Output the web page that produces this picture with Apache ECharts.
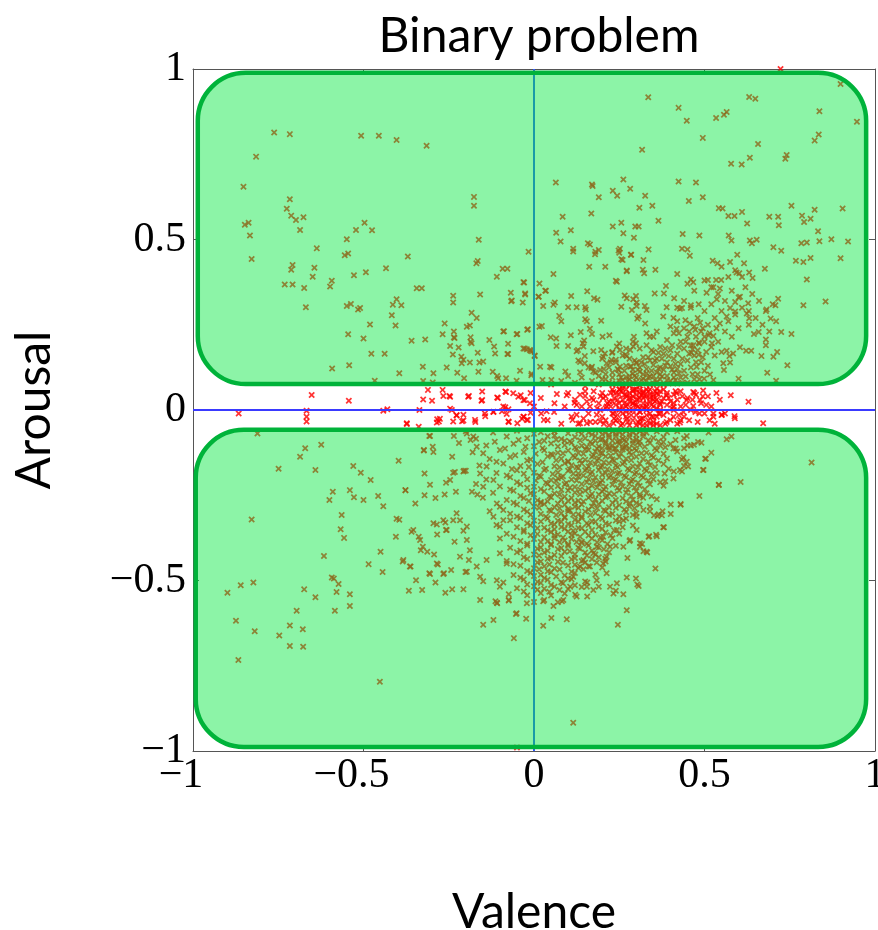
<!DOCTYPE html>
<html><head><meta charset="utf-8">
<script src="https://cdn.jsdelivr.net/npm/echarts@6/dist/echarts.min.js"></script>
<style>html,body{margin:0;padding:0;background:#fff}#c{width:878px;height:930px}</style>
</head><body><div id="c"></div>
<script>
const xTicks = [-1, -0.5, 0, 0.5, 1];
const yTicks = [-1, -0.5, 0, 0.5, 1];
const xTickLabels = ['−1', '−0.5', '0', '0.5', '1'];
const yTickLabels = ['−1', '−0.5', '0', '0.5', '1'];

// points in the upper (high arousal) region
const upperPoints = [
[-0.762,0.814],[-0.716,0.809],[-0.507,0.804],[-0.455,0.804],[-0.403,0.792],[-0.315,0.775],[-0.815,0.743],[-0.852,0.655],[-0.716,0.618],[-0.725,0.590],[-0.712,0.570],[-0.698,0.557],[-0.676,0.565],[-0.686,0.528],[-0.848,0.543],[-0.837,0.549],[-0.833,0.512],[-0.828,0.443],[-0.637,0.474],[-0.549,0.501],[-0.522,0.528],[-0.497,0.549],[-0.475,0.527],[-0.555,0.454],[-0.545,0.459],[-0.708,0.425],[-0.712,0.411],[-0.644,0.417],[-0.649,0.391],[-0.731,0.368],[-0.708,0.368],[-0.674,0.358],[-0.593,0.379],[-0.598,0.362],[-0.528,0.395],[-0.493,0.404],[-0.434,0.416],[-0.370,0.450],[-0.176,0.625],[-0.176,0.599],[-0.162,0.499],[-0.165,0.437],[-0.169,0.430],[-0.016,0.464],[-0.109,0.391],[-0.092,0.414],[-0.078,0.414],[-0.344,0.357],[-0.329,0.357],[-0.669,0.301],[-0.549,0.305],[-0.537,0.311],[-0.516,0.295],[-0.510,0.299],[-0.403,0.325],[-0.414,0.309],[-0.389,0.307],[-0.417,0.278],[-0.406,0.248],[-0.481,0.251],[-0.545,0.222],[-0.500,0.210],[-0.477,0.165],[-0.438,0.165],[-0.592,0.122],[-0.542,0.131],[-0.395,0.108],[-0.359,0.203],[-0.319,0.207],[-0.237,0.335],[-0.237,0.315],[-0.158,0.339],[-0.183,0.285],[-0.168,0.270],[-0.262,0.254],[-0.268,0.222],[-0.235,0.230],[-0.235,0.213],[-0.197,0.244],[-0.188,0.248],[-0.186,0.213],[-0.183,0.196],[-0.246,0.188],[-0.221,0.183],[-0.238,0.163],[-0.213,0.156],[-0.207,0.147],[-0.212,0.137],[-0.188,0.139],[-0.165,0.168],[-0.160,0.139],[-0.149,0.142],[-0.163,0.112],[-0.256,0.125],[-0.295,0.108],[-0.225,0.109],[-0.205,0.093],[-0.326,0.127],[-0.325,0.085],[-0.297,0.081],[-0.467,0.086],[-0.131,0.205],[-0.117,0.186],[-0.114,0.166],[-0.076,0.194],[-0.076,0.164],[-0.090,0.230],[-0.051,0.222],[-0.020,0.235],[-0.031,0.180],[-0.012,0.176],[-0.041,0.115],[-0.007,0.106],[-0.121,0.112],[-0.105,0.093],[-0.082,0.093],[-0.051,0.086],[-0.068,0.344],[-0.067,0.319],[-0.029,0.374],[-0.026,0.339],[-0.033,0.315],[0.016,0.371],[0.013,0.332],[0.035,0.350],[0.027,0.305],[0.016,0.244],
[0.335,0.917],[0.424,0.886],[0.448,0.848],[0.495,0.798],[0.534,0.856],[0.557,0.866],[0.565,0.874],[0.631,0.918],[0.649,0.913],[0.657,0.780],[0.633,0.740],[0.578,0.722],[0.609,0.720],[0.317,0.763],[0.741,0.748],[0.737,0.737],[0.823,0.790],[0.835,0.808],[0.837,0.876],[0.899,0.956],[0.947,0.845],[0.723,1.0],[0.064,0.667],[0.170,0.661],[0.172,0.657],[0.262,0.676],[0.282,0.649],[0.231,0.643],[0.244,0.628],[0.190,0.624],[0.326,0.628],[0.424,0.670],[0.475,0.667],[0.454,0.613],[0.495,0.624],[0.309,0.593],[0.347,0.599],[0.168,0.576],[0.084,0.567],[0.365,0.555],[0.542,0.592],[0.553,0.591],[0.570,0.569],[0.588,0.569],[0.610,0.581],[0.625,0.547],[0.690,0.567],[0.716,0.567],[0.718,0.542],[0.755,0.599],[0.786,0.570],[0.792,0.551],[0.811,0.561],[0.823,0.587],[0.905,0.591],[0.833,0.524],[0.837,0.495],[0.872,0.501],[0.921,0.494],[0.784,0.489],[0.800,0.491],[0.899,0.445],[0.768,0.438],[0.790,0.434],[0.811,0.446],[0.800,0.383],[0.790,0.307],[0.855,0.318],[0.702,0.477],[0.725,0.467],[0.677,0.414],[0.571,0.512],[0.579,0.497],[0.633,0.497],[0.653,0.499],[0.639,0.489],[0.596,0.455],[0.575,0.434],[0.616,0.430],[0.594,0.403],[0.602,0.401],[0.631,0.403],[0.641,0.387],[0.524,0.438],[0.538,0.430],[0.436,0.516],[0.485,0.512],[0.434,0.473],[0.450,0.471],[0.457,0.452],[0.420,0.399],[0.460,0.383],[0.467,0.375],[0.510,0.381],[0.534,0.381],[0.549,0.381],[0.526,0.360],[0.545,0.356],[0.506,0.344],[0.536,0.325],[0.604,0.332],[0.590,0.317],[0.575,0.299],[0.590,0.289],[0.624,0.283],[0.631,0.269],[0.628,0.313],[0.682,0.295],[0.708,0.307],[0.716,0.326],[0.694,0.268],[0.725,0.229],[0.755,0.223],[0.659,0.229],[0.645,0.223],[0.680,0.207],[0.680,0.190],[0.604,0.184],[0.622,0.174],[0.637,0.174],[0.667,0.158],[0.713,0.170],[0.702,0.156],[0.743,0.131],[0.684,0.109],[0.600,0.092],[0.710,0.086],[0.499,0.092],[0.500,0.215],[0.512,0.219],[0.526,0.217],[0.522,0.196],[0.565,0.174],[0.573,0.158],[0.575,0.139],[0.555,0.137],[0.557,0.117],[0.584,0.166],[0.545,0.254],[0.565,0.274],[0.487,0.256],[0.473,0.235],[0.457,0.254],[0.444,0.263],[0.483,0.310],[0.460,0.307],[0.434,0.299],[0.409,0.270],[0.418,0.238],[0.483,0.197],[0.467,0.190],[0.461,0.168],[0.483,0.162],[0.477,0.127],[0.516,0.104],[0.526,0.088],
[-0.031,0.375],[-0.026,0.342],[-0.065,0.321],[0.033,0.350],[0.014,0.332],[0.057,0.399],[0.078,0.494],[0.065,0.520],[0.108,0.527],[0.115,0.473],[0.115,0.465],[0.158,0.489],[0.164,0.485],[0.180,0.464],[0.190,0.469],[0.162,0.420],[0.209,0.420],[0.248,0.468],[0.252,0.473],[0.260,0.440],[0.285,0.455],[0.293,0.505],[0.297,0.538],[0.307,0.538],[0.256,0.549],[0.231,0.538],[0.262,0.518],[0.321,0.440],[0.336,0.471],[0.319,0.411],[0.323,0.401],[0.356,0.411],[0.272,0.409],[0.240,0.379],[0.243,0.376],[0.109,0.334],[0.156,0.348],[0.176,0.328],[0.186,0.323],[0.266,0.336],[0.272,0.328],[0.299,0.334],[0.354,0.342],[0.387,0.364],[0.381,0.342],[0.411,0.328],[0.057,0.309],[0.100,0.301],[0.125,0.301],[0.150,0.301],[0.152,0.295],[0.301,0.305],[0.325,0.305],[0.330,0.293],[0.389,0.301],[0.428,0.297],[0.307,0.274],[0.326,0.254],[0.379,0.274],[0.074,0.276],[0.080,0.260],[0.023,0.246],[-0.018,0.237],[-0.049,0.223],[-0.088,0.231],[0.150,0.266],[0.155,0.260],[0.197,0.262],[0.137,0.229],[0.170,0.223],[0.201,0.215],[0.221,0.219],[0.108,0.219],[0.049,0.213],[0.066,0.188],[0.100,0.188],[0.143,0.196],[0.147,0.204],[0.293,0.215],[0.299,0.196],[0.330,0.225],[0.350,0.215],[-0.078,0.164],[-0.027,0.180],[-0.006,0.172],[0.002,0.160],[0.018,0.127],[0.047,0.127],[0.092,0.113],[0.135,0.111],[-0.008,0.102],[0.025,0.088],[0.051,0.088],[0.129,0.176],[0.149,0.137],[0.168,0.123],[0.174,0.172],[0.197,0.176],[0.203,0.156],[0.213,0.137],[0.194,0.117],[0.229,0.168],[0.240,0.147],[0.248,0.117],[0.268,0.162],
[0.179,0.457],[0.250,0.461],[0.284,0.455],[0.256,0.442],[0.272,0.407],[0.061,0.315],[0.065,0.210],[0.164,0.238],[0.291,0.325],[0.301,0.315],[0.287,0.293],[0.303,0.268],[0.256,0.303],[0.051,0.125],[0.125,0.172],[0.145,0.186],[0.135,0.141],[0.149,0.158],[0.170,0.127],[0.174,0.113],[0.208,0.166],[0.227,0.147],[0.243,0.186],[0.252,0.176],[0.272,0.158],[0.282,0.176],[0.291,0.186],[0.252,0.127],[0.282,0.127],[0.301,0.137],[-0.233,0.211],[-0.186,0.200],[0.002,0.158],[-0.010,0.174],[-0.021,0.178],[-0.108,0.100],
[0.27,0.075],[0.29,0.08],[0.31,0.072],[0.33,0.085],[0.35,0.078],[0.37,0.09],[0.30,0.095],[0.28,0.10],[0.32,0.105],[0.34,0.098],[0.36,0.11],[0.26,0.088],[0.24,0.078],[0.25,0.105],[0.38,0.075],[0.40,0.085],[0.42,0.078],[0.39,0.10],[0.41,0.11],[0.43,0.095],[0.29,0.118],[0.31,0.125],[0.33,0.12],[0.35,0.132],[0.37,0.125],[0.27,0.13],[0.23,0.095],[0.22,0.08],[0.20,0.09],[0.21,0.105],[0.19,0.075],[0.17,0.085],[0.45,0.08],[0.47,0.09],[0.44,0.115],[0.46,0.125],[0.48,0.105],[0.50,0.115],[0.49,0.14],[0.51,0.13],[0.39,0.14],[0.41,0.15],[0.43,0.135],[0.45,0.145],[0.47,0.16],[0.36,0.15],[0.34,0.145],[0.32,0.155],[0.30,0.14],[0.28,0.15],[0.38,0.165],[0.40,0.175],[0.42,0.165],[0.44,0.18],[0.46,0.19],[0.48,0.175],[0.37,0.185],[0.35,0.17],[0.33,0.19],[0.31,0.18],[0.26,0.16],[0.24,0.14],[0.22,0.125],[0.18,0.11],[0.16,0.125],[0.14,0.095],[0.12,0.08],[0.15,0.07],[0.10,0.10],[0.08,0.085],[0.05,0.075],[0.13,0.145],[0.20,0.15],[0.43,0.2],[0.45,0.215],[0.41,0.225],[0.39,0.205],[0.50,0.2],[0.52,0.185],[0.53,0.16],[0.55,0.17],[0.54,0.2],[0.49,0.23],[0.47,0.245],[0.51,0.25],[0.44,0.24],[0.42,0.26],[0.40,0.245],[0.36,0.23],[0.34,0.215],[0.29,0.2],[0.27,0.18],[0.25,0.195],[0.23,0.17],[0.56,0.23],[0.58,0.215],[0.60,0.24],[0.57,0.26],[0.59,0.28],[0.61,0.3],[0.63,0.29],[0.55,0.29],[0.53,0.27],[0.52,0.31],[0.50,0.29],[0.48,0.27],[0.46,0.3],[0.44,0.32],[0.42,0.3],[0.54,0.34],[0.56,0.32],[0.58,0.35],[0.60,0.33],[0.62,0.36],[0.64,0.34],[0.66,0.32],[0.52,0.36],[0.50,0.38],[0.47,0.35],[0.45,0.37],[0.57,0.39],[0.59,0.41],[0.61,0.39],[0.55,0.42],[0.63,0.25],[0.65,0.27],[0.67,0.25],[0.69,0.23],[0.71,0.26],[0.68,0.29],[0.70,0.31],[0.28,0.09],[0.30,0.083],[0.32,0.092],[0.34,0.075],[0.36,0.082],[0.26,0.072],[0.33,0.108],[0.35,0.1],[0.37,0.105],[0.31,0.112],[0.29,0.107],[0.27,0.097],[0.38,0.118],[0.40,0.128],[0.42,0.12],[0.28,0.072],[0.39,0.088],[0.41,0.095],[0.25,0.085],[0.23,0.11],
[0.255,0.095],[0.275,0.085],[0.295,0.1],[0.315,0.088],[0.335,0.095],[0.355,0.088],[0.375,0.098],[0.395,0.078],[0.415,0.088],[0.435,0.08],[0.265,0.115],[0.285,0.128],[0.305,0.118],[0.325,0.135],[0.345,0.115],[0.365,0.122],[0.385,0.13],[0.405,0.118],[0.425,0.108],[0.445,0.098],[0.465,0.105],[0.485,0.09],[0.295,0.145],[0.315,0.14],[0.335,0.155],[0.355,0.145],[0.375,0.15],[0.395,0.158],[0.415,0.135],[0.435,0.15],[0.455,0.165],[0.475,0.14],[0.495,0.155],[0.345,0.175],[0.365,0.168],[0.385,0.18],[0.405,0.19],[0.425,0.185],[0.445,0.2],[0.465,0.178],[0.485,0.195],[0.505,0.17],[0.425,0.225],[0.455,0.23],[0.475,0.215],[0.495,0.24],[0.515,0.225],[0.535,0.24],[0.23,0.075],[0.21,0.09],[0.19,0.1],[0.245,0.12],[0.225,0.14],[0.205,0.12]
];

// points in the neutral band around zero arousal
const bandPoints = [
[-0.652,0.044],[-0.543,0.027],[-0.866,-0.010],[-0.667,-0.002],[-0.667,-0.020],[-0.667,-0.034],[-0.442,-0.002],[-0.430,0.002],[-0.325,0.031],[-0.299,0.027],[-0.311,0.059],[-0.268,0.059],[-0.246,0.039],[-0.266,0.041],[-0.193,0.039],[-0.152,0.054],[-0.152,0.029],[-0.106,0.035],[-0.084,0.054],[-0.061,0.049],[-0.046,0.039],[-0.031,0.029],[-0.012,0.020],[-0.090,0.010],[-0.075,0.002],[-0.119,-0.005],[-0.144,-0.010],[-0.241,0.000],[-0.284,-0.027],[-0.279,-0.034],[-0.227,-0.015],[-0.207,-0.031],[-0.173,-0.029],[-0.075,-0.034],[-0.031,-0.020],[-0.021,-0.029],[-0.336,0.000],[-0.373,-0.041],[-0.338,-0.049],[-0.285,-0.037],[-0.237,-0.034],[-0.211,-0.033],[-0.074,-0.035],
[-0.248,0.041],[-0.191,0.041],[-0.154,0.027],[-0.108,0.037],[-0.082,0.053],[-0.039,0.043],[-0.027,0.029],[-0.246,0.004],[-0.227,-0.016],[-0.207,-0.014],[-0.276,-0.026],[-0.172,-0.035],[-0.143,-0.018],[-0.119,-0.006],[-0.094,-0.004],[-0.084,0.008],[-0.080,-0.012],[-0.049,-0.039],[-0.035,-0.026],[-0.018,-0.029],[-0.010,-0.008],[-0.373,-0.039],
[0.021,-0.010],[0.037,-0.004],[0.029,-0.029],[0.059,-0.006],[0.067,0.047],[0.096,0.043],[0.119,0.021],[0.113,-0.029],[0.135,-0.039],[0.125,-0.014],[0.150,0.041],[0.164,0.010],[0.184,-0.014],[0.194,-0.033],[0.174,0.029],[0.203,0.035],[0.233,0.053],[0.252,0.061],[0.291,0.059],[0.321,0.055],[0.360,0.049],[0.389,0.043],[0.418,0.049],[0.448,0.029],[0.467,0.053],[0.487,0.029],[0.496,0.057],[0.467,0.012],[0.473,-0.006],[0.438,-0.006],[0.526,-0.010],[0.551,-0.014],[0.588,-0.018],[0.577,0.043],[0.428,-0.037],[0.389,-0.035],[0.350,-0.021],[0.311,-0.029],[0.272,-0.026],[0.233,-0.039],[0.252,0.004],[0.291,0.020],[0.330,0.010],[0.369,0.020],[0.409,0.010],[0.213,0.010],[0.233,-0.010],[0.311,-0.006],[0.369,-0.010],[0.409,-0.020],[0.350,0.039],[0.272,0.039],[0.155,-0.039],[0.194,0.000],[0.629,0.024],[0.672,-0.039],[0.526,-0.020],[0.550,-0.015],[0.589,-0.024],
[0.10,0.05],[0.11,-0.02],[0.12,0.03],[0.13,-0.04],[0.14,0.01],[0.15,0.055],[0.16,-0.01],[0.17,0.035],[0.18,-0.035],[0.19,0.02],[0.20,0.05],[0.20,-0.02],[0.21,0.005],[0.21,0.04],[0.22,-0.045],[0.22,0.025],[0.23,-0.01],[0.23,0.06],[0.24,0.015],[0.24,-0.03],[0.25,0.045],[0.25,0.0],[0.26,-0.04],[0.26,0.03],[0.26,0.062],[0.27,0.01],[0.27,-0.02],[0.28,0.05],[0.28,-0.045],[0.28,0.025],[0.29,0.0],[0.29,0.04],[0.29,-0.03],[0.30,0.06],[0.30,0.015],[0.30,-0.015],[0.31,0.035],[0.31,-0.04],[0.31,0.005],[0.32,0.05],[0.32,-0.025],[0.32,0.02],[0.33,0.0],[0.33,0.04],[0.33,-0.045],[0.34,0.06],[0.34,0.025],[0.34,-0.01],[0.35,0.045],[0.35,-0.035],[0.35,0.01],[0.36,0.03],[0.36,-0.02],[0.37,0.055],[0.37,0.0],[0.37,-0.045],[0.38,0.035],[0.38,-0.015],[0.39,0.015],[0.39,0.05],[0.40,-0.03],[0.40,0.025],[0.41,0.045],[0.41,0.0],[0.42,-0.04],[0.42,0.03],[0.43,0.01],[0.43,0.055],[0.44,-0.02],[0.45,0.035],[0.46,0.0],[0.47,0.05],[0.48,-0.035],[0.49,0.02],[0.50,-0.01],[0.51,0.04],[0.52,0.01],[0.53,-0.04],[0.545,0.03],[0.56,-0.01],
[0.225,0.01],[0.235,0.035],[0.245,-0.015],[0.255,0.055],[0.265,0.02],[0.275,-0.035],[0.285,0.035],[0.295,0.015],[0.305,-0.035],[0.315,0.045],[0.325,0.005],[0.335,0.055],[0.345,-0.02],[0.355,0.025],[0.365,0.045],[0.305,0.03],[0.27,0.045],[0.24,0.05],[0.33,0.02],[0.29,0.055],[0.31,-0.005],[0.26,0.005],[0.36,0.005],[0.34,0.045],[0.28,0.0],[0.30,0.045],[0.32,0.035],[0.25,-0.03],[0.35,-0.045],[0.38,0.06],
[0.02,0.035],[0.04,-0.03],[0.06,0.02],[0.08,-0.04],[0.09,0.01],[-0.01,0.05],[-0.03,-0.02],[0.0,0.01],
[0.125,0.015],[0.135,0.045],[0.145,-0.025],[0.155,0.025],[0.165,-0.035],[0.175,0.055],[0.185,0.005],[0.195,0.04],[0.205,-0.04],[0.215,0.02],[0.225,0.05],[0.235,-0.025],[0.245,0.03],[0.255,-0.045],[0.265,0.045],[0.275,0.015],[0.285,-0.015],[0.295,0.06],[0.305,0.01],[0.315,-0.025],[0.325,0.04],[0.335,-0.03],[0.345,0.015],[0.355,0.055],[0.365,-0.01],[0.375,0.025],[0.385,-0.04],[0.395,0.035],[0.405,0.005],[0.415,0.055],[0.425,-0.015],[0.435,0.04],[0.445,0.015],[0.455,-0.03],[0.465,0.03],[0.475,0.045],[0.485,-0.01],[0.495,0.04],[0.505,0.015],[0.515,-0.03],[0.535,0.05],[0.21,-0.03],[0.23,0.025],[0.25,0.02],[0.27,-0.005],[0.29,0.02],[0.31,0.05],[0.33,-0.015],[0.35,0.03],[0.37,0.015],[0.39,-0.005],[0.41,0.02],[0.43,-0.03],[0.25,0.06],[0.27,0.06],[0.31,0.06],[0.33,0.06],[0.36,0.062],[0.26,-0.01],[0.3,-0.045],[0.32,-0.045],[0.34,-0.04],[0.36,-0.04],[0.28,0.035],[0.3,0.03],[0.34,0.035],[0.32,0.005]
];

// points in the lower (low arousal) region
const lowerPoints = [
[-0.811,-0.069],[-0.671,-0.112],[-0.686,-0.137],[-0.624,-0.102],[-0.749,-0.172],[-0.641,-0.176],[-0.530,-0.164],[-0.508,-0.184],[-0.479,-0.205],[-0.397,-0.149],[-0.321,-0.186],[-0.305,-0.219],[-0.323,-0.117],[-0.297,-0.108],[-0.307,-0.076],[-0.235,-0.076],[-0.590,-0.240],[-0.600,-0.264],[-0.540,-0.235],[-0.528,-0.256],[-0.500,-0.264],[-0.457,-0.252],[-0.442,-0.282],[-0.377,-0.235],[-0.348,-0.274],[-0.321,-0.250],[-0.289,-0.258],[-0.262,-0.248],[-0.229,-0.240],[-0.258,-0.213],[-0.246,-0.205],[-0.232,-0.182],[-0.205,-0.178],[-0.564,-0.308],[-0.567,-0.350],[-0.557,-0.375],[-0.828,-0.321],[-0.403,-0.319],[-0.395,-0.322],[-0.405,-0.372],[-0.359,-0.357],[-0.338,-0.372],[-0.326,-0.401],[-0.332,-0.411],[-0.313,-0.416],[-0.295,-0.332],[-0.285,-0.336],[-0.260,-0.330],[-0.258,-0.352],[-0.284,-0.365],[-0.293,-0.424],[-0.233,-0.386],[-0.217,-0.323],[-0.227,-0.303],[-0.207,-0.354],[-0.197,-0.381],[-0.616,-0.428],[-0.593,-0.491],[-0.587,-0.494],[-0.573,-0.510],[-0.579,-0.534],[-0.540,-0.540],[-0.540,-0.575],[-0.584,-0.589],[-0.674,-0.526],[-0.641,-0.549],[-0.696,-0.589],[-0.716,-0.632],[-0.747,-0.661],[-0.678,-0.643],[-0.716,-0.692],[-0.677,-0.694],[-0.823,-0.506],[-0.860,-0.514],[-0.899,-0.536],[-0.874,-0.618],[-0.819,-0.649],[-0.867,-0.733],[-0.452,-0.797],[-0.485,-0.452],[-0.450,-0.416],[-0.444,-0.475],[-0.385,-0.444],[-0.362,-0.459],[-0.346,-0.499],[-0.367,-0.530],[-0.328,-0.528],[-0.307,-0.479],[-0.289,-0.506],[-0.282,-0.453],[-0.264,-0.479],[-0.243,-0.469],[-0.260,-0.536],[-0.240,-0.526],[-0.207,-0.526],[-0.201,-0.475],[-0.191,-0.440],[-0.158,-0.557],[-0.149,-0.630],[-0.119,-0.616],[-0.113,-0.561],[-0.108,-0.567],[-0.074,-0.557],[-0.059,-0.669],[-0.051,-0.596],[-0.023,-0.612],[-0.021,-0.567],[0.027,-0.633],[-0.149,-0.502],[-0.109,-0.499],[-0.090,-0.506],[-0.05,-0.99],
[0.814,-0.154],[0.606,-0.211],[0.542,-0.220],[0.485,-0.252],[0.401,-0.277],[0.430,-0.278],[0.401,-0.305],[0.379,-0.344],[0.358,-0.366],[0.336,-0.372],[0.330,-0.416],[0.356,-0.465],[0.303,-0.512],[0.274,-0.434],[0.272,-0.491],[0.262,-0.540],[0.272,-0.587],[0.246,-0.630],[0.115,-0.917],[0.096,-0.614],[0.051,-0.610],[0.057,-0.575],[0.082,-0.561],[0.027,-0.561],[-0.053,-0.598],[-0.074,-0.559],[0.240,-0.530],[0.213,-0.479],[0.190,-0.518],[0.156,-0.506],[0.121,-0.542],[0.156,-0.547],[0.209,-0.436],[0.184,-0.447],[0.299,-0.494],[0.311,-0.401],[0.317,-0.393],[0.362,-0.311],[0.366,-0.306],[0.377,-0.297],[0.383,-0.186],[0.409,-0.201],[0.434,-0.180],[0.452,-0.166],[0.497,-0.176],[0.504,-0.143],[0.520,-0.125],[0.434,-0.145],[0.469,-0.102],[0.491,-0.096],[0.565,-0.086],[0.579,-0.078],[0.512,-0.066],[0.448,-0.076],[0.409,-0.113],[0.379,-0.094],
[-0.305,-0.076],[-0.323,-0.119],[-0.295,-0.123],[-0.377,-0.235],[-0.237,-0.184],[-0.207,-0.180],[-0.186,-0.088],[-0.168,-0.108],[-0.149,-0.127],[-0.197,-0.069],[-0.178,-0.078],[-0.139,-0.166],[-0.158,-0.186],[-0.119,-0.205],[-0.149,-0.225],[-0.182,-0.240],[-0.166,-0.248],[-0.109,-0.274],[-0.090,-0.293],[-0.119,-0.313],[-0.070,-0.323],[-0.100,-0.342],[-0.237,-0.323],[-0.197,-0.342],[-0.266,-0.323],[-0.256,-0.352],[-0.354,-0.352],[-0.334,-0.381],[-0.383,-0.440],[-0.364,-0.459],[-0.285,-0.450],[-0.266,-0.481],[-0.305,-0.481],[-0.217,-0.430],[-0.188,-0.411],[-0.168,-0.459],[-0.139,-0.440],[-0.100,-0.420],[-0.080,-0.450],[-0.197,-0.474],[-0.158,-0.489],[-0.109,-0.565],[-0.100,-0.518],[-0.074,-0.540],
[0.416,-0.113],[0.450,-0.104],[0.481,-0.094],[0.502,-0.143],[0.438,-0.139],[0.448,-0.152],[0.428,-0.176],[0.385,-0.209],[0.496,-0.176],[0.542,-0.219],[0.430,-0.276],[0.352,-0.309],[0.375,-0.309],[0.381,-0.344],[0.338,-0.370],[0.360,-0.370],[0.311,-0.391],[0.321,-0.414],[0.332,-0.418],[0.301,-0.352],[0.282,-0.381],[0.262,-0.401],[0.307,-0.516],[0.223,-0.518],[0.233,-0.538],[0.243,-0.508],[0.125,-0.547],[0.106,-0.518],[0.086,-0.557],[0.203,-0.372],[0.223,-0.401],[0.213,-0.430],[0.174,-0.420],[0.243,-0.352],[0.262,-0.323],[0.301,-0.313],[0.321,-0.293],[0.282,-0.274],[0.311,-0.254],[0.340,-0.284],[0.135,-0.459],[0.115,-0.489],[0.145,-0.440],[0.164,-0.459],[0.184,-0.401],[0.203,-0.450],[0.184,-0.499],[0.174,-0.528],[0.155,-0.518],
[-0.20,-0.062],[-0.12,-0.066],[-0.05,-0.061],[0.02,-0.065],[0.06,-0.063],[0.10,-0.068],[0.13,-0.062],[0.16,-0.066],[0.19,-0.061],[0.21,-0.067],[0.23,-0.063],[0.25,-0.065],[0.27,-0.061],[0.29,-0.066],[0.31,-0.062],[0.33,-0.067],[0.36,-0.063],[0.39,-0.065],[0.42,-0.062],
[-0.17,-0.084],[-0.08,-0.078],[-0.02,-0.083],[0.04,-0.077],[0.08,-0.085],[0.12,-0.079],[0.15,-0.083],[0.18,-0.076],[0.20,-0.086],[0.22,-0.08],[0.24,-0.077],[0.26,-0.084],[0.28,-0.079],[0.30,-0.085],[0.32,-0.078],[0.35,-0.082],[0.38,-0.079],[0.44,-0.083],
[-0.22,-0.097],[-0.14,-0.104],[-0.06,-0.099],[0.0,-0.106],[0.05,-0.098],[0.09,-0.103],[0.11,-0.096],[0.14,-0.105],[0.17,-0.1],[0.19,-0.107],[0.21,-0.097],[0.23,-0.104],[0.25,-0.099],[0.27,-0.106],[0.29,-0.098],[0.31,-0.103],[0.34,-0.097],[0.37,-0.105],[0.40,-0.1],[0.46,-0.104],
[-0.18,-0.124],[-0.10,-0.117],[-0.03,-0.123],[0.03,-0.118],[0.07,-0.125],[0.10,-0.119],[0.13,-0.126],[0.16,-0.117],[0.18,-0.122],[0.20,-0.127],[0.22,-0.118],[0.24,-0.124],[0.26,-0.116],[0.28,-0.123],[0.30,-0.119],[0.33,-0.125],[0.36,-0.118],[0.42,-0.122],
[-0.24,-0.137],[-0.13,-0.144],[-0.07,-0.138],[-0.01,-0.145],[0.04,-0.136],[0.08,-0.143],[0.12,-0.139],[0.15,-0.146],[0.17,-0.137],[0.19,-0.142],[0.21,-0.136],[0.23,-0.145],[0.25,-0.138],[0.27,-0.143],[0.30,-0.137],[0.32,-0.144],[0.35,-0.139],[0.39,-0.142],
[-0.16,-0.163],[-0.09,-0.157],[-0.04,-0.164],[0.01,-0.158],[0.06,-0.165],[0.09,-0.156],[0.11,-0.162],[0.14,-0.157],[0.16,-0.166],[0.18,-0.159],[0.20,-0.164],[0.22,-0.156],[0.24,-0.163],[0.26,-0.158],[0.29,-0.165],[0.31,-0.157],[0.34,-0.162],[0.38,-0.158],[0.44,-0.164],
[-0.20,-0.178],[-0.11,-0.185],[-0.05,-0.177],[0.0,-0.184],[0.03,-0.176],[0.07,-0.183],[0.10,-0.178],[0.13,-0.186],[0.15,-0.177],[0.17,-0.182],[0.19,-0.176],[0.21,-0.185],[0.23,-0.179],[0.25,-0.184],[0.28,-0.177],[0.30,-0.183],[0.33,-0.178],[0.36,-0.185],[0.41,-0.18],
[-0.14,-0.204],[-0.07,-0.197],[-0.02,-0.203],[0.02,-0.196],[0.05,-0.205],[0.08,-0.198],[0.11,-0.204],[0.13,-0.196],[0.16,-0.202],[0.18,-0.197],[0.20,-0.206],[0.22,-0.199],[0.24,-0.203],[0.27,-0.197],[0.29,-0.204],[0.32,-0.198],[0.35,-0.203],
[-0.17,-0.217],[-0.10,-0.224],[-0.04,-0.218],[0.0,-0.225],[0.04,-0.216],[0.07,-0.223],[0.09,-0.218],[0.12,-0.226],[0.14,-0.217],[0.17,-0.222],[0.19,-0.216],[0.21,-0.225],[0.23,-0.219],[0.26,-0.224],[0.28,-0.217],[0.31,-0.223],[0.34,-0.218],[0.38,-0.222],
[-0.12,-0.243],[-0.06,-0.237],[-0.01,-0.244],[0.03,-0.238],[0.06,-0.245],[0.10,-0.236],[0.12,-0.242],[0.15,-0.237],[0.17,-0.246],[0.20,-0.239],[0.22,-0.244],[0.25,-0.236],[0.27,-0.243],[0.30,-0.238],[0.33,-0.244],
[-0.15,-0.257],[-0.08,-0.264],[-0.03,-0.258],[0.01,-0.265],[0.05,-0.256],[0.08,-0.263],[0.11,-0.258],[0.13,-0.266],[0.16,-0.257],[0.18,-0.262],[0.21,-0.256],[0.24,-0.264],[0.26,-0.259],[0.29,-0.263],[0.32,-0.257],[0.36,-0.262],
[-0.10,-0.284],[-0.05,-0.277],[0.0,-0.283],[0.03,-0.276],[0.06,-0.285],[0.09,-0.278],[0.12,-0.284],[0.14,-0.277],[0.17,-0.283],[0.19,-0.276],[0.22,-0.285],[0.25,-0.279],[0.28,-0.283],[0.31,-0.277],
[-0.13,-0.297],[-0.07,-0.304],[-0.02,-0.298],[0.02,-0.305],[0.05,-0.296],[0.08,-0.303],[0.10,-0.297],[0.13,-0.306],[0.15,-0.298],[0.18,-0.302],[0.21,-0.296],[0.23,-0.304],[0.27,-0.299],[0.30,-0.303],[0.34,-0.297],
[-0.09,-0.323],[-0.04,-0.317],[0.0,-0.324],[0.04,-0.318],[0.07,-0.325],[0.09,-0.316],[0.12,-0.322],[0.14,-0.317],[0.17,-0.326],[0.20,-0.319],[0.24,-0.324],[0.27,-0.318],
[-0.11,-0.337],[-0.05,-0.344],[-0.01,-0.338],[0.03,-0.345],[0.06,-0.336],[0.08,-0.343],[0.11,-0.338],[0.13,-0.346],[0.16,-0.337],[0.19,-0.342],[0.22,-0.336],[0.26,-0.344],[0.29,-0.339],
[-0.08,-0.363],[-0.03,-0.357],[0.01,-0.364],[0.05,-0.358],[0.07,-0.365],[0.10,-0.356],[0.12,-0.362],[0.15,-0.357],[0.18,-0.366],[0.21,-0.359],[0.25,-0.363],
[-0.10,-0.377],[-0.04,-0.384],[0.0,-0.378],[0.04,-0.385],[0.06,-0.376],[0.09,-0.383],[0.11,-0.378],[0.14,-0.386],[0.17,-0.377],[0.20,-0.382],[0.23,-0.376],[0.28,-0.384],
[-0.07,-0.404],[-0.02,-0.397],[0.02,-0.403],[0.05,-0.396],[0.08,-0.405],[0.10,-0.398],[0.13,-0.404],[0.16,-0.397],[0.19,-0.403],[0.24,-0.398],
[-0.05,-0.417],[0.0,-0.424],[0.03,-0.418],[0.06,-0.425],[0.09,-0.416],[0.12,-0.423],[0.15,-0.418],[0.18,-0.424],[0.22,-0.417],
[-0.08,-0.443],[-0.02,-0.437],[0.02,-0.444],[0.04,-0.436],[0.07,-0.445],[0.11,-0.438],[0.14,-0.443],[0.17,-0.437],[0.21,-0.444],
[-0.04,-0.457],[0.0,-0.464],[0.03,-0.458],[0.06,-0.465],[0.10,-0.456],[0.13,-0.463],[0.16,-0.458],[0.20,-0.462],
[-0.06,-0.484],[-0.01,-0.477],[0.02,-0.483],[0.05,-0.476],[0.09,-0.485],[0.12,-0.478],[0.18,-0.483],
[-0.03,-0.497],[0.01,-0.504],[0.04,-0.498],[0.08,-0.505],[0.11,-0.496],[0.15,-0.503],
[-0.05,-0.523],[0.0,-0.517],[0.03,-0.524],[0.06,-0.518],[0.10,-0.525],[0.14,-0.519],
[-0.02,-0.543],[0.02,-0.537],[0.05,-0.544],[0.09,-0.538],
[0.0,-0.563],[0.03,-0.557],[0.07,-0.564],
[0.14,-0.07],[0.17,-0.072],[0.2,-0.071],[0.22,-0.073],[0.24,-0.07],[0.26,-0.072],[0.28,-0.071],[0.3,-0.073],[0.32,-0.07],[0.18,-0.09],[0.21,-0.092],[0.23,-0.09],[0.25,-0.091],[0.27,-0.093],[0.29,-0.09],[0.31,-0.092],[0.2,-0.112],[0.22,-0.11],[0.24,-0.113],[0.26,-0.111],[0.28,-0.112],[0.15,-0.115],[0.12,-0.11],[0.09,-0.09],[0.06,-0.075],[0.03,-0.09],[0.0,-0.07],[0.05,-0.13],[0.1,-0.15],[0.13,-0.17],[0.2,-0.19],[0.07,-0.2],[0.16,-0.23],[0.02,-0.27],[0.1,-0.29],[0.06,-0.35],[0.14,-0.39],
[-0.115,-0.093],[-0.045,-0.088],[0.015,-0.094],[0.065,-0.087],[0.105,-0.092],[0.135,-0.089],[0.165,-0.094],[0.195,-0.087],[0.245,-0.093],[0.265,-0.088],[0.305,-0.095],[0.335,-0.089],[0.365,-0.092],[0.415,-0.088],
[-0.085,-0.113],[-0.025,-0.108],[0.025,-0.112],[0.07,-0.107],[0.125,-0.114],[0.155,-0.108],[0.185,-0.113],[0.215,-0.107],[0.235,-0.114],[0.265,-0.109],[0.295,-0.113],[0.325,-0.108],[0.355,-0.112],[0.385,-0.109],[0.44,-0.112],
[-0.055,-0.133],[0.005,-0.128],[0.055,-0.132],[0.085,-0.127],[0.115,-0.134],[0.145,-0.128],[0.175,-0.133],[0.195,-0.127],[0.225,-0.134],[0.255,-0.128],[0.285,-0.132],[0.315,-0.127],[0.345,-0.133],[0.38,-0.128],
[-0.11,-0.152],[-0.02,-0.148],[0.025,-0.153],[0.065,-0.147],[0.1,-0.152],[0.135,-0.148],[0.165,-0.154],[0.185,-0.147],[0.205,-0.153],[0.235,-0.149],[0.265,-0.153],[0.285,-0.147],[0.335,-0.152],[0.365,-0.148],
[-0.065,-0.173],[-0.015,-0.167],[0.035,-0.172],[0.075,-0.168],[0.105,-0.174],[0.125,-0.167],[0.155,-0.172],[0.195,-0.168],[0.215,-0.174],[0.245,-0.167],[0.275,-0.172],[0.305,-0.168],[0.325,-0.173],[0.355,-0.167],[0.395,-0.172],
[-0.08,-0.192],[-0.03,-0.187],[0.015,-0.193],[0.055,-0.188],[0.085,-0.194],[0.115,-0.187],[0.145,-0.192],[0.165,-0.188],[0.225,-0.193],[0.245,-0.187],[0.265,-0.193],[0.295,-0.188],[0.315,-0.192],[0.345,-0.188],
[-0.05,-0.212],[0.005,-0.207],[0.035,-0.213],[0.065,-0.208],[0.095,-0.214],[0.125,-0.207],[0.155,-0.212],[0.175,-0.208],[0.195,-0.213],[0.235,-0.207],[0.255,-0.212],[0.285,-0.208],[0.305,-0.213],[0.335,-0.207],[0.37,-0.212],
[-0.07,-0.233],[-0.02,-0.228],[0.02,-0.232],[0.05,-0.227],[0.08,-0.234],[0.105,-0.228],[0.135,-0.233],[0.185,-0.227],[0.205,-0.233],[0.245,-0.228],[0.275,-0.233],[0.295,-0.227],[0.325,-0.232],
[-0.04,-0.252],[0.0,-0.247],[0.045,-0.253],[0.075,-0.248],[0.09,-0.254],[0.135,-0.247],[0.165,-0.252],[0.19,-0.248],[0.215,-0.253],[0.235,-0.247],[0.285,-0.252],[0.31,-0.248],[0.345,-0.253],
[-0.06,-0.272],[-0.015,-0.267],[0.02,-0.273],[0.04,-0.268],[0.07,-0.274],[0.1,-0.267],[0.12,-0.272],[0.145,-0.268],[0.175,-0.273],[0.2,-0.267],[0.23,-0.272],[0.27,-0.268],[0.3,-0.273],
[-0.03,-0.292],[0.015,-0.287],[0.045,-0.293],[0.075,-0.288],[0.105,-0.294],[0.13,-0.287],[0.16,-0.292],[0.185,-0.288],[0.205,-0.293],[0.24,-0.287],[0.265,-0.292],[0.295,-0.288],
[-0.05,-0.312],[-0.01,-0.307],[0.035,-0.313],[0.065,-0.308],[0.09,-0.314],[0.115,-0.307],[0.14,-0.312],[0.165,-0.308],[0.195,-0.313],[0.22,-0.307],[0.25,-0.312],[0.29,-0.308],
[-0.02,-0.332],[0.02,-0.327],[0.05,-0.333],[0.08,-0.328],[0.1,-0.334],[0.13,-0.327],[0.155,-0.332],[0.18,-0.328],[0.21,-0.333],[0.25,-0.327],
[-0.03,-0.352],[0.01,-0.347],[0.04,-0.353],[0.09,-0.348],[0.115,-0.354],[0.14,-0.347],[0.17,-0.352],[0.2,-0.348],[0.235,-0.353],
[-0.06,-0.372],[-0.01,-0.367],[0.03,-0.373],[0.06,-0.368],[0.085,-0.374],[0.11,-0.367],[0.135,-0.372],[0.16,-0.368],[0.195,-0.373],[0.225,-0.367],
[-0.02,-0.392],[0.02,-0.387],[0.05,-0.393],[0.075,-0.388],[0.1,-0.394],[0.125,-0.387],[0.155,-0.392],[0.185,-0.388],[0.215,-0.393],
[-0.04,-0.412],[0.01,-0.407],[0.04,-0.413],[0.07,-0.408],[0.105,-0.414],[0.135,-0.407],[0.17,-0.412],[0.205,-0.408],
[-0.03,-0.432],[0.015,-0.427],[0.05,-0.433],[0.08,-0.428],[0.12,-0.434],[0.155,-0.427],[0.19,-0.432],
[-0.06,-0.452],[0.01,-0.447],[0.045,-0.453],[0.085,-0.448],[0.12,-0.454],[0.15,-0.447],
[-0.02,-0.472],[0.015,-0.467],[0.04,-0.473],[0.075,-0.468],[0.11,-0.474],[0.145,-0.467],
[-0.04,-0.492],[0.0,-0.487],[0.03,-0.493],[0.065,-0.488],[0.1,-0.494],
[-0.02,-0.512],[0.02,-0.507],[0.05,-0.513],[0.085,-0.508],[0.12,-0.514],
[-0.03,-0.532],[0.01,-0.527],[0.045,-0.533],[0.075,-0.528]
];

// class regions [xMin, yMin, xMax, yMax]
const regions = [[-0.986, 0.076, 0.974, 0.989], [-0.992, -0.988, 0.974, -0.058]];
const hLine = [[-1, 0], [1, 0]];
const vLine = [[0, -1], [0, 1]];

const chart = echarts.init(document.getElementById('c'), null, {renderer: 'canvas'});
const labelFont = {fontFamily: 'Liberation Serif', fontSize: 42, color: '#000'};
const nameFont = {fontFamily: 'Lato', fontSize: 48, color: '#000', fontWeight: 'normal'};
const frame = {show: true, onZero: false, lineStyle: {color: '#555', width: 1}};
const ticks = {show: true, inside: true, length: 6, lineStyle: {color: '#555', width: 1}};
const X = 'path://M0,1.9L1.9,0L5,3.1L8.1,0L10,1.9L6.9,5L10,8.1L8.1,10L5,6.9L1.9,10L0,8.1L3.1,5Z';
const markStyle = {color: '#ff0000'};

function xLabel(v) {
  const i = xTicks.indexOf(v);
  const t = i >= 0 ? xTickLabels[i] : String(v);
  return v < 0 ? '{n|' + t + '}{p|}' : '{n|' + t + '}';
}
function yLabel(v) {
  const i = yTicks.indexOf(v);
  return i >= 0 ? yTickLabels[i] : String(v);
}

chart.setOption({
  animation: false,
  backgroundColor: '#fff',
  title: {
    text: 'Binary problem', left: 534, top: 8, textAlign: 'center',
    textStyle: {fontFamily: 'Lato', fontSize: 48, fontWeight: 'normal', color: '#000'}
  },
  grid: {left: 193, top: 69, width: 682, height: 682, containLabel: false, outerBoundsMode: 'none'},
  xAxis: [
    {type: 'value', min: -1, max: 1, interval: 0.5, position: 'bottom',
     axisLine: frame, axisTick: ticks, splitLine: {show: false},
     axisLabel: {margin: 4, showMinLabel: true, showMaxLabel: true, hideOverlap: false, formatter: xLabel,
       rich: {n: labelFont, p: {width: 24}}},
     name: 'Valence', nameLocation: 'middle', nameGap: 138, nameTextStyle: nameFont},
    {type: 'value', min: -1, max: 1, interval: 0.5, position: 'top',
     axisLine: frame, axisTick: ticks, splitLine: {show: false}, axisLabel: {show: false}}
  ],
  yAxis: [
    {type: 'value', min: -1, max: 1, interval: 0.5, position: 'left',
     axisLine: frame, axisTick: ticks, splitLine: {show: false},
     axisLabel: Object.assign({margin: 7, showMinLabel: true, showMaxLabel: true, formatter: yLabel}, labelFont),
     name: 'Arousal', nameLocation: 'middle', nameGap: 134, nameTextStyle: nameFont},
    {type: 'value', min: -1, max: 1, interval: 0.5, position: 'right',
     axisLine: frame, axisTick: ticks, splitLine: {show: false}, axisLabel: {show: false}}
  ],
  series: [
    {type: 'scatter', name: 'upper', data: upperPoints, symbol: X, symbolSize: 6.5, z: 2,
     itemStyle: markStyle, silent: true},
    {type: 'scatter', name: 'band', data: bandPoints, symbol: X, symbolSize: 6.5, z: 2,
     itemStyle: markStyle, silent: true},
    {type: 'scatter', name: 'lower', data: lowerPoints, symbol: X, symbolSize: 6.5, z: 2,
     itemStyle: markStyle, silent: true},
    {type: 'line', data: hLine, symbol: 'none', z: 3, silent: true,
     lineStyle: {color: '#3a3aff', width: 2}},
    {type: 'line', data: vLine, symbol: 'none', z: 3, silent: true,
     lineStyle: {color: '#2f5bff', width: 2}},
    {type: 'custom', data: regions, z: 4, silent: true,
     encode: {x: [0, 2], y: [1, 3]},
     renderItem: function (params, api) {
       const p1 = api.coord([api.value(0), api.value(3)]);
       const p2 = api.coord([api.value(2), api.value(1)]);
       return {type: 'rect',
         shape: {x: p1[0], y: p1[1], width: p2[0] - p1[0], height: p2[1] - p1[1], r: 48},
         style: {fill: 'rgba(0,230,60,0.45)', stroke: '#00b33a', lineWidth: 4.5}};
     }}
  ]
});
</script>
</body></html>
